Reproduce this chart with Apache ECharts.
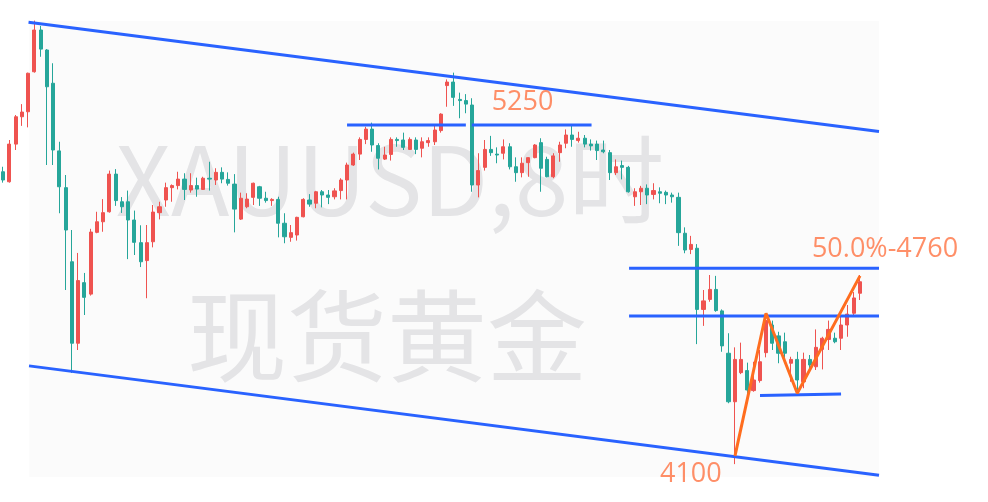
<!DOCTYPE html>
<html>
<head>
<meta charset="utf-8">
<script src="https://cdn.jsdelivr.net/npm/echarts@6/dist/echarts.min.js"></script>
<style>
html,body{margin:0;padding:0;background:#ffffff;}
#main{width:988px;height:502px;}
</style>
</head>
<body>
<div id="main"></div>
<script>
// ---- candle data (XAUUSD 8h) ----
const openVals = [5091,5057,5185,5278,5295,5431,5573,5505,5392,5162,
  5037,4785,4508,4714,4675,4885,4921,4955,5083,4989,
  4989,4927,4850,4789,4853,4952,4995,5037,5044,5066,
  5029,5044,5031,5069,5063,5089,5065,5049,4930,4972,
  5004,5040,5001,4993,4997,4916,4868,4876,4938,4995,
  4984,5023,5012,5006,5027,5063,5114,5151,5201,5236,
  5180,5134,5150,5201,5199,5167,5199,5171,5190,5193,
  5231,5384,5396,5337,5333,5318,5046,5106,5167,5151,
  5154,5176,5108,5088,5122,5139,5190,5133,5074,5156,
  5188,5216,5197,5205,5185,5185,5165,5156,5088,5112,
  5106,5006,5023,5035,5014,5023,5021,5012,5004,4882,
  4827,4831,4623,4657,4691,4618,4474,4309,4408,4415,
  4347,4381,4476,4570,4533,4513,4440,4453,4377,4453,
  4428,4487,4521,4525,4525,4570,4610,4678];
const closeVals = [5063,5185,5278,5294,5426,5573,5508,5380,5165,5040,
  4893,4508,4721,4664,4886,4921,4952,5083,4993,4972,
  4927,4851,4785,4850,4954,4972,5037,5044,5066,5031,
  5044,5032,5069,5066,5089,5066,5052,4964,5001,4998,
  5052,5001,4993,4997,4916,4870,4884,4936,4997,4981,
  5023,5012,5004,5026,5063,5114,5151,5201,5236,5182,
  5137,5148,5201,5197,5174,5201,5167,5193,5197,5233,
  5287,5396,5344,5333,5321,5046,5095,5167,5156,5148,
  5176,5108,5088,5120,5139,5182,5103,5074,5145,5182,
  5216,5201,5205,5185,5179,5163,5159,5088,5108,5106,
  5023,5023,5035,5012,5027,5018,5012,5006,4884,4825,
  4844,4623,4652,4691,4619,4499,4309,4453,4453,4349,
  4383,4445,4585,4508,4474,4474,4453,4383,4453,4434,
  4494,4525,4555,4513,4570,4607,4662,4717];
const lowVals = [5054,5054,5165,5247,5242,5428,5482,5114,5114,4950,
  4689,4407,4485,4604,4670,4882,4887,4952,4975,4951,
  4794,4808,4767,4661,4834,4929,4972,4989,5031,4995,
  5020,5006,5029,5027,5046,5052,5044,4885,4927,4967,
  4978,4975,4986,4975,4868,4848,4853,4857,4936,4972,
  4967,4970,4981,4997,4997,4997,5111,5131,5185,5159,
  5099,5131,5129,5176,5165,5165,5151,5140,5176,5182,
  5224,5312,5315,5273,5290,5023,5004,5095,5145,5120,
  5133,5099,5057,5072,5074,5137,5023,5072,5069,5125,
  5171,5176,5190,5174,5163,5131,5154,5063,5080,5065,
  5020,4975,4978,4981,4997,4984,4981,4986,4839,4814,
  4811,4505,4567,4649,4615,4479,4304,4097,4403,4315,
  4343,4374,4460,4485,4440,4440,4377,4332,4355,4417,
  4417,4419,4485,4508,4485,4530,4601,4655];
const highVals = [5108,5199,5284,5321,5428,5605,5587,5508,5460,5193,
  5080,4893,4815,4747,4897,4955,4998,5095,5100,5005,
  5027,4959,4909,4910,4978,4989,5054,5048,5091,5086,
  5086,5071,5074,5125,5103,5106,5089,5083,5020,5018,
  5054,5043,5023,5001,5006,4950,4910,4938,5001,5015,
  5026,5029,5029,5035,5069,5122,5156,5208,5244,5258,
  5188,5176,5208,5208,5224,5208,5208,5208,5208,5247,
  5290,5405,5428,5360,5355,5341,5154,5199,5213,5174,
  5201,5188,5140,5140,5140,5185,5205,5142,5154,5193,
  5235,5247,5227,5216,5201,5197,5197,5165,5133,5129,
  5111,5035,5043,5048,5052,5038,5027,5020,5020,4902,
  4873,4845,4689,4740,4737,4623,4542,4494,4510,4442,
  4445,4485,4610,4585,4547,4544,4462,4479,4476,4468,
  4555,4530,4585,4544,4601,4638,4682,4740];

const totalSlots = 158; // candles + empty space on the right
const categories = Array.from({length: totalSlots}, (_, i) => String(i + 1));

// ---- drawings (x = candle index, y = price) ----
const channelTop = [[4.06, 5599], [140.07, 5228]];
const channelBottom = [[4.14, 4431], [140.07, 4059]];
const level5250a = [[55.0, 5250], [74.0, 5250]];
const level5250b = [[74.95, 5250], [94.1, 5250]];
const level4760 = [[100.1, 4763], [140.07, 4763]];
const level4600 = [[100.1, 4601], [140.07, 4601]];
const neckLow = [[121.04, 4330], [134.0, 4335]];
const zigzag = [[117.04, 4125], [122.0, 4610], [127.0, 4338], [137.03, 4737]];
const bgBox = [[4.14, 5604], [140.07, 4053]];
const labelNames = ['5250', '50.0%-4760', '4100'];
const labelPos = [[83.06, 5328], [141.03, 4827], [109.98, 4062]];

const candleData = categories.map((c, i) =>
  i < openVals.length ? [openVals[i], closeVals[i], lowVals[i], highVals[i]] : '-');

const BLUE = '#2962ff';
const ORANGE = '#ff6d1f';

function lineSeries(data, color) {
  return {
    type: 'line', xAxisIndex: 1, yAxisIndex: 0, data: data,
    symbol: 'none', silent: true, animation: false, z: 5,
    lineStyle: {color: color, width: 3}
  };
}

const chart = echarts.init(document.getElementById('main'), null, {renderer: 'canvas'});
chart.setOption({
  animation: false,
  backgroundColor: '#ffffff',
  grid: {left: 0, right: 0, top: 0, bottom: 0, containLabel: false},
  xAxis: [
    {type: 'category', data: categories, boundaryGap: true, show: false},
    {type: 'value', min: -0.5, max: totalSlots - 0.5, show: false}
  ],
  yAxis: [{type: 'value', min: 3968.2, max: 5675, show: false, scale: true}],
  graphic: [
    {type: 'text', z: 0, x: 390, y: 180, silent: true,
      style: {text: 'XAUUSD,8时', font: '96px "Noto Sans CJK SC"', fill: '#e8e8ea', align: 'center', verticalAlign: 'middle'}},
    {type: 'text', z: 0, x: 387, y: 336, silent: true,
      style: {text: '现货黄金', font: '100px "Noto Sans CJK SC"', fill: '#e8e8ea', align: 'center', verticalAlign: 'middle'}}
  ],
  series: [
    {
      type: 'line', xAxisIndex: 1, yAxisIndex: 0, data: [], silent: true, z: 1,
      markArea: {silent: true, itemStyle: {color: 'rgba(0,0,0,0.016)'},
        data: [[{coord: bgBox[0]}, {coord: bgBox[1]}]]}
    },
    {
      type: 'candlestick', xAxisIndex: 0, yAxisIndex: 0, data: candleData,
      barWidth: 3.6, z: 3,
      itemStyle: {color: '#ef5350', color0: '#26a69a', borderColor: '#ef5350', borderColor0: '#26a69a', borderWidth: 1}
    },
    lineSeries(channelTop, BLUE),
    lineSeries(channelBottom, BLUE),
    lineSeries(level5250a, BLUE),
    lineSeries(level5250b, BLUE),
    lineSeries(level4760, BLUE),
    lineSeries(level4600, BLUE),
    lineSeries(neckLow, BLUE),
    lineSeries(zigzag, ORANGE),
    {
      type: 'scatter', xAxisIndex: 1, yAxisIndex: 0, symbolSize: 0, z: 6, silent: true,
      data: labelPos.map((p, i) => ({name: labelNames[i], value: p})),
      label: {show: true, position: 'inside', formatter: '{b}', color: '#ff7342',
        fontSize: 27, fontFamily: '"Open Sans", sans-serif'}
    }
  ]
});
</script>
</body>
</html>
